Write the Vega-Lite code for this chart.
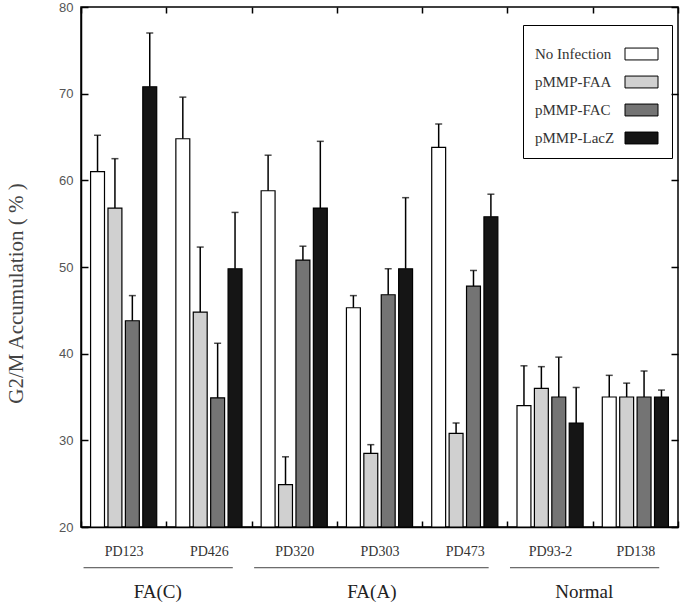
{
  "$schema": "https://vega.github.io/schema/vega-lite/v6.json",
  "width": 597,
  "height": 520,
  "autosize": {"type": "none"},
  "padding": {"left": 81, "top": 7, "right": 7, "bottom": 76},
  "background": "white",
  "config": {
    "view": {"stroke": "black", "strokeWidth": 1.5},
    "axis": {"domainColor": "black", "domainWidth": 1.5, "tickColor": "black", "tickWidth": 1.5, "grid": false}
  },
  "datasets": {
    "bars": [
      {"group": "PD123", "series": "No Infection", "value": 61, "upper": 65.2},
      {"group": "PD123", "series": "pMMP-FAA", "value": 56.8, "upper": 62.5},
      {"group": "PD123", "series": "pMMP-FAC", "value": 43.8, "upper": 46.7},
      {"group": "PD123", "series": "pMMP-LacZ", "value": 70.8, "upper": 77},
      {"group": "PD426", "series": "No Infection", "value": 64.8, "upper": 69.6},
      {"group": "PD426", "series": "pMMP-FAA", "value": 44.8, "upper": 52.3},
      {"group": "PD426", "series": "pMMP-FAC", "value": 34.9, "upper": 41.2},
      {"group": "PD426", "series": "pMMP-LacZ", "value": 49.8, "upper": 56.3},
      {"group": "PD320", "series": "No Infection", "value": 58.8, "upper": 62.9},
      {"group": "PD320", "series": "pMMP-FAA", "value": 24.9, "upper": 28.1},
      {"group": "PD320", "series": "pMMP-FAC", "value": 50.8, "upper": 52.4},
      {"group": "PD320", "series": "pMMP-LacZ", "value": 56.8, "upper": 64.5},
      {"group": "PD303", "series": "No Infection", "value": 45.3, "upper": 46.7},
      {"group": "PD303", "series": "pMMP-FAA", "value": 28.5, "upper": 29.5},
      {"group": "PD303", "series": "pMMP-FAC", "value": 46.8, "upper": 49.8},
      {"group": "PD303", "series": "pMMP-LacZ", "value": 49.8, "upper": 58},
      {"group": "PD473", "series": "No Infection", "value": 63.8, "upper": 66.5},
      {"group": "PD473", "series": "pMMP-FAA", "value": 30.8, "upper": 32},
      {"group": "PD473", "series": "pMMP-FAC", "value": 47.8, "upper": 49.6},
      {"group": "PD473", "series": "pMMP-LacZ", "value": 55.8, "upper": 58.4},
      {"group": "PD93-2", "series": "No Infection", "value": 34, "upper": 38.6},
      {"group": "PD93-2", "series": "pMMP-FAA", "value": 36, "upper": 38.5},
      {"group": "PD93-2", "series": "pMMP-FAC", "value": 35, "upper": 39.6},
      {"group": "PD93-2", "series": "pMMP-LacZ", "value": 32, "upper": 36.1},
      {"group": "PD138", "series": "No Infection", "value": 35, "upper": 37.5},
      {"group": "PD138", "series": "pMMP-FAA", "value": 35, "upper": 36.6},
      {"group": "PD138", "series": "pMMP-FAC", "value": 35, "upper": 38},
      {"group": "PD138", "series": "pMMP-LacZ", "value": 35, "upper": 35.8}
    ],
    "cats": [
      {"category": "FA(C)", "start": "PD123", "end": "PD426"},
      {"category": "FA(A)", "start": "PD320", "end": "PD473"},
      {"category": "Normal", "start": "PD93-2", "end": "PD138"}
    ]
  },
  "layer": [
    {
      "data": {"name": "bars"},
      "mark": {"type": "bar", "stroke": "black", "strokeWidth": 1.2},
      "encoding": {
        "x": {
          "field": "group", "type": "nominal",
          "scale": {"domain": ["PD123", "PD426", "PD320", "PD303", "PD473", "PD93-2", "PD138"], "paddingInner": 0, "paddingOuter": 0},
          "axis": {"orient": "bottom", "title": null, "labelAngle": 0, "tickBand": "extent", "tickSize": -6,
                   "labelPadding": 23, "labelFont": "Liberation Serif", "labelFontSize": 14, "labelColor": "#333"}
        },
        "xOffset": {
          "field": "series", "type": "nominal",
          "sort": ["No Infection", "pMMP-FAA", "pMMP-FAC", "pMMP-LacZ"],
          "scale": {"paddingInner": 0.2, "paddingOuter": 0.55}
        },
        "y": {
          "field": "value", "type": "quantitative",
          "scale": {"domain": [20, 80], "nice": false, "zero": false},
          "axis": {"orient": "left", "values": [20, 30, 40, 50, 60, 70, 80], "tickSize": -7, "labelPadding": 15,
                   "labelFont": "Liberation Sans", "labelFontSize": 13, "labelColor": "#555",
                   "title": "G2/M Accumulation ( % )", "titleFont": "Liberation Serif", "titleFontSize": 21,
                   "titleFontWeight": "normal", "titleColor": "#444", "titleX": -65, "titleY": 286,
                   "titleBaseline": "middle", "titleAlign": "center", "titleAngle": -90}
        },
        "y2": {"datum": 20},
        "fill": {
          "field": "series", "type": "nominal",
          "sort": ["No Infection", "pMMP-FAA", "pMMP-FAC", "pMMP-LacZ"],
          "scale": {"domain": ["No Infection", "pMMP-FAA", "pMMP-FAC", "pMMP-LacZ"], "range": ["#ffffff", "#d0d0d0", "#747474", "#151515"]},
          "legend": {"orient": "none", "legendX": 442, "legendY": 18, "title": null,
                     "strokeColor": "black", "padding": 12,
                     "symbolType": "M-1,-0.36H1V0.36H-1Z", "symbolSize": 1089,
                     "symbolStrokeColor": "black", "symbolStrokeWidth": 1,
                     "labelFont": "Liberation Serif", "labelFontSize": 15, "labelColor": "#333",
                     "labelAlign": "left", "labelOffset": -123.5, "symbolOffset": 89.5, "rowPadding": 3}
        }
      }
    },
    {
      "data": {"name": "bars"},
      "mark": {"type": "rule", "color": "black", "strokeWidth": 1.5},
      "encoding": {
        "x": {"field": "group", "type": "nominal",
              "scale": {"domain": ["PD123", "PD426", "PD320", "PD303", "PD473", "PD93-2", "PD138"]},
              "axis": {"orient": "top", "title": null, "labels": false, "domain": false, "tickBand": "extent", "tickSize": -6}},
        "xOffset": {"field": "series", "type": "nominal", "sort": ["No Infection", "pMMP-FAA", "pMMP-FAC", "pMMP-LacZ"]},
        "y": {"field": "value", "type": "quantitative",
              "axis": {"orient": "right", "title": null, "labels": false, "domain": false, "values": [20, 30, 40, 50, 60, 70, 80], "tickSize": -7}},
        "y2": {"field": "upper"}
      }
    },
    {
      "data": {"name": "bars"},
      "mark": {"type": "tick", "color": "black", "size": 7, "thickness": 1.5, "orient": "horizontal"},
      "encoding": {
        "x": {"field": "group", "type": "nominal",
              "scale": {"domain": ["PD123", "PD426", "PD320", "PD303", "PD473", "PD93-2", "PD138"]}, "axis": null},
        "xOffset": {"field": "series", "type": "nominal", "sort": ["No Infection", "pMMP-FAA", "pMMP-FAC", "pMMP-LacZ"]},
        "y": {"field": "upper", "type": "quantitative", "axis": null}
      }
    },
    {
      "data": {"name": "cats"},
      "mark": {"type": "rule", "color": "#444", "strokeWidth": 1, "clip": false},
      "encoding": {
        "x": {"field": "start", "type": "nominal", "bandPosition": 0.03,
              "scale": {"domain": ["PD123", "PD426", "PD320", "PD303", "PD473", "PD93-2", "PD138"]}, "axis": null},
        "x2": {"field": "end", "bandPosition": 0.78},
        "y": {"datum": 15.3, "axis": null}
      }
    },
    {
      "data": {"name": "cats"},
      "transform": [{"filter": "datum.category !== 'FA(A)'"}],
      "mark": {"type": "text", "font": "Liberation Serif", "fontSize": 19, "color": "#222", "baseline": "middle", "clip": false},
      "encoding": {
        "x": {"field": "start", "type": "nominal", "bandPosition": 0.9,
              "scale": {"domain": ["PD123", "PD426", "PD320", "PD303", "PD473", "PD93-2", "PD138"]}, "axis": null},
        "y": {"datum": 12.5, "axis": null},
        "text": {"field": "category"}
      }
    },
    {
      "data": {"name": "cats"},
      "transform": [{"filter": "datum.category === 'FA(A)'"}],
      "mark": {"type": "text", "font": "Liberation Serif", "fontSize": 19, "color": "#222", "baseline": "middle", "clip": false},
      "encoding": {
        "x": {"field": "start", "type": "nominal", "bandPosition": 1.41,
              "scale": {"domain": ["PD123", "PD426", "PD320", "PD303", "PD473", "PD93-2", "PD138"]}, "axis": null},
        "y": {"datum": 12.5, "axis": null},
        "text": {"field": "category"}
      }
    }
  ],
  "resolve": {"axis": {"x": "independent", "y": "independent"}}
}
